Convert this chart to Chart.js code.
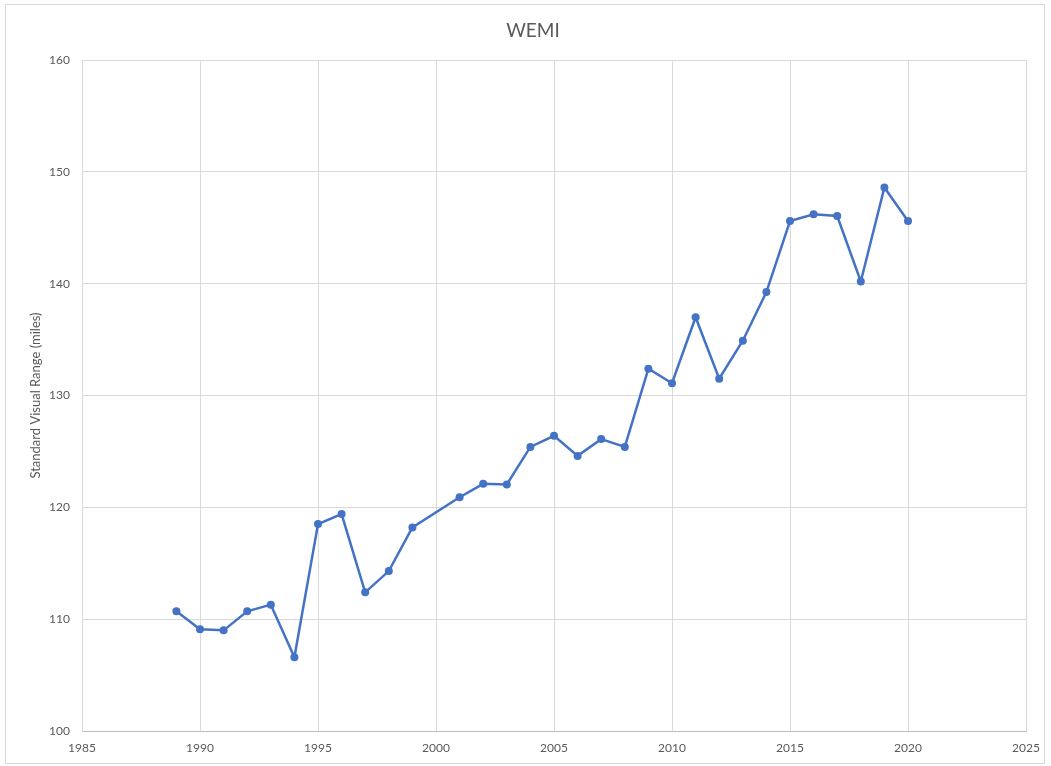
<!DOCTYPE html>
<html>
<head>
<meta charset="utf-8">
<script src="https://cdn.jsdelivr.net/npm/chart.js@4/dist/chart.umd.min.js"></script>
<style>
  html, body { margin: 0; padding: 0; background: #ffffff; }
  #wrap { position: relative; width: 1051px; height: 766px; overflow: hidden; }
  #c { position: absolute; left: 0; top: 0; }
  #frame { position: absolute; left: 5px; top: 4px; width: 1040px; height: 760px; border: 1px solid #d9d9d9; box-sizing: border-box; pointer-events: none; }
  #title { position: absolute; left: 433px; width: 200px; top: 18px; text-align: center; font-family: Lato, "Open Sans", sans-serif; font-size: 19px; color: #595959; }
</style>
</head>
<body>
<div id="wrap">
  <canvas id="c" width="1051" height="766"></canvas>
  <div id="frame"></div>
  <div id="title">WEMI</div>
</div>
<script>
const chartTitle = 'WEMI';
const yAxisTitle = 'Standard Visual Range (miles)';
const years = [1989, 1990, 1991, 1992, 1993, 1994, 1995, 1996, 1997, 1998, 1999,
               2001, 2002, 2003, 2004, 2005, 2006, 2007, 2008, 2009, 2010,
               2011, 2012, 2013, 2014, 2015, 2016, 2017, 2018, 2019, 2020];
const visualRange = [110.7, 109.1, 109.0, 110.7, 111.3, 106.6, 118.5, 119.4, 112.4, 114.3, 118.2,
                     120.9, 122.1, 122.05, 125.4, 126.4, 124.6, 126.1, 125.4, 132.4, 131.1,
                     137.0, 131.5, 134.9, 139.25, 145.6, 146.2, 146.05, 140.2, 148.6, 145.6];
const xTicks = [1985, 1990, 1995, 2000, 2005, 2010, 2015, 2020, 2025];
const yTicks = [100, 110, 120, 130, 140, 150, 160];

document.getElementById('title').textContent = chartTitle;

const points = years.map((y, i) => ({ x: y, y: visualRange[i] }));
const fontFamily = 'Lato, "Open Sans", sans-serif';

new Chart(document.getElementById('c'), {
  type: 'line',
  data: {
    datasets: [{
      label: chartTitle,
      data: points,
      borderColor: '#4472C4',
      backgroundColor: '#4472C4',
      borderWidth: 2.5,
      pointRadius: 4,
      pointBackgroundColor: '#4472C4',
      pointBorderColor: '#4472C4',
      pointBorderWidth: 0,
      tension: 0,
      fill: false
    }]
  },
  options: {
    responsive: false,
    animation: false,
    devicePixelRatio: 1,
    layout: { padding: { left: 0, right: 25, top: 60, bottom: 0 } },
    plugins: {
      legend: { display: false },
      title: { display: false },
      tooltip: { enabled: false }
    },
    scales: {
      x: {
        type: 'linear',
        min: xTicks[0],
        max: xTicks[xTicks.length - 1],
        afterBuildTicks: (s) => { s.ticks = xTicks.map(v => ({ value: v })); },
        afterFit: (s) => { s.height = 35; },
        grid: { color: '#d9d9d9', lineWidth: 1, drawTicks: false },
        border: { color: '#bfbfbf', width: 1 },
        ticks: {
          padding: 10,
          color: '#595959',
          font: { family: fontFamily, size: 12 },
          callback: (v) => String(v)
        }
      },
      y: {
        type: 'linear',
        min: yTicks[0],
        max: yTicks[yTicks.length - 1],
        afterBuildTicks: (s) => { s.ticks = yTicks.map(v => ({ value: v })); },
        afterFit: (s) => { s.width = 82; },
        grid: { color: '#d9d9d9', lineWidth: 1, drawTicks: false },
        border: { color: '#d9d9d9', width: 1 },
        ticks: {
          padding: 12,
          color: '#595959',
          font: { family: fontFamily, size: 12 },
          callback: (v) => String(v)
        },
        title: {
          display: true,
          text: yAxisTitle,
          color: '#595959',
          font: { family: fontFamily, size: 13 },
          padding: { top: 28, bottom: 0 }
        }
      }
    }
  }
});
</script>
</body>
</html>
